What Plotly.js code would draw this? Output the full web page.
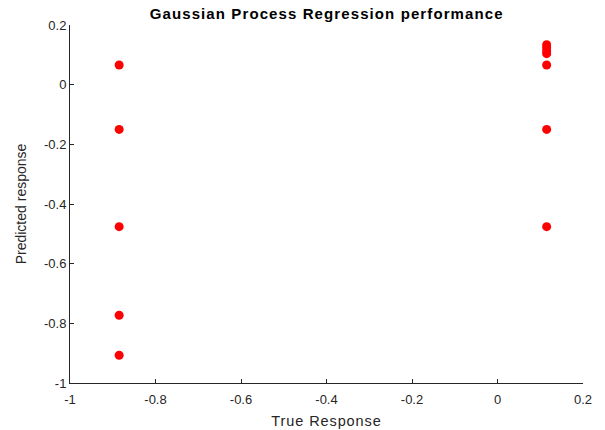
<!DOCTYPE html>
<html>
<head>
<meta charset="utf-8">
<script src="https://cdn.plot.ly/plotly-3.0.1.min.js"></script>
<style>
  html, body { margin: 0; padding: 0; background: #fff; }
  #chart { width: 605px; height: 430px; }
  /* MATLAB-style spaced lettering for the title and x label */
  #chart .gtitle { letter-spacing: 1.1px; }
  #chart .xtitle { letter-spacing: 0.9px; }
</style>
</head>
<body>
<div id="chart"></div>
<script>
// True vs predicted responses of the GPR model
const trueResponse = [-0.885, -0.885, -0.885, -0.885, -0.885,
                      0.115, 0.115, 0.115, 0.115, 0.115, 0.115, 0.115];
const predictedResponse = [0.066, -0.150, -0.476, -0.773, -0.907,
                           0.134, 0.124, 0.113, 0.104, 0.066, -0.150, -0.476];
const tickVals = [-1, -0.8, -0.6, -0.4, -0.2, 0, 0.2];
const tickText = ['-1', '-0.8', '-0.6', '-0.4', '-0.2', '0', '0.2'];

const FONT = 'Liberation Sans, Arial, sans-serif';

const axisCommon = {
  range: [-1, 0.2],
  tickvals: tickVals,
  ticktext: tickText,
  ticks: 'inside',
  ticklen: 4,
  tickwidth: 1,
  tickcolor: '#262626',
  showline: true,
  linecolor: '#262626',
  linewidth: 1,
  showgrid: false,
  zeroline: false,
  tickfont: { family: FONT, size: 13, color: '#262626' }
};

const trace = {
  x: trueResponse,
  y: predictedResponse,
  type: 'scatter',
  mode: 'markers',
  marker: { color: '#ff0000', size: 9, line: { width: 0 } },
  hoverinfo: 'x+y'
};

const layout = {
  width: 605,
  height: 430,
  paper_bgcolor: '#fff',
  plot_bgcolor: '#fff',
  margin: { l: 70, r: 22, t: 25, b: 47 },
  showlegend: false,
  title: {
    text: '<b>Gaussian Process Regression performance</b>',
    font: { family: FONT, size: 15, color: '#000' },
    x: 0.54, xanchor: 'center', y: 0.968, yanchor: 'middle'
  },
  xaxis: Object.assign({}, axisCommon, {
    ticklabelstandoff: 4,
    title: { text: 'True Response', standoff: 10,
             font: { family: FONT, size: 14.5, color: '#262626' } }
  }),
  yaxis: Object.assign({}, axisCommon, {
    title: { text: 'Predicted response', standoff: 14,
             font: { family: FONT, size: 14, color: '#262626' } }
  })
};

Plotly.newPlot('chart', [trace], layout, { displayModeBar: false, staticPlot: true });
</script>
</body>
</html>
